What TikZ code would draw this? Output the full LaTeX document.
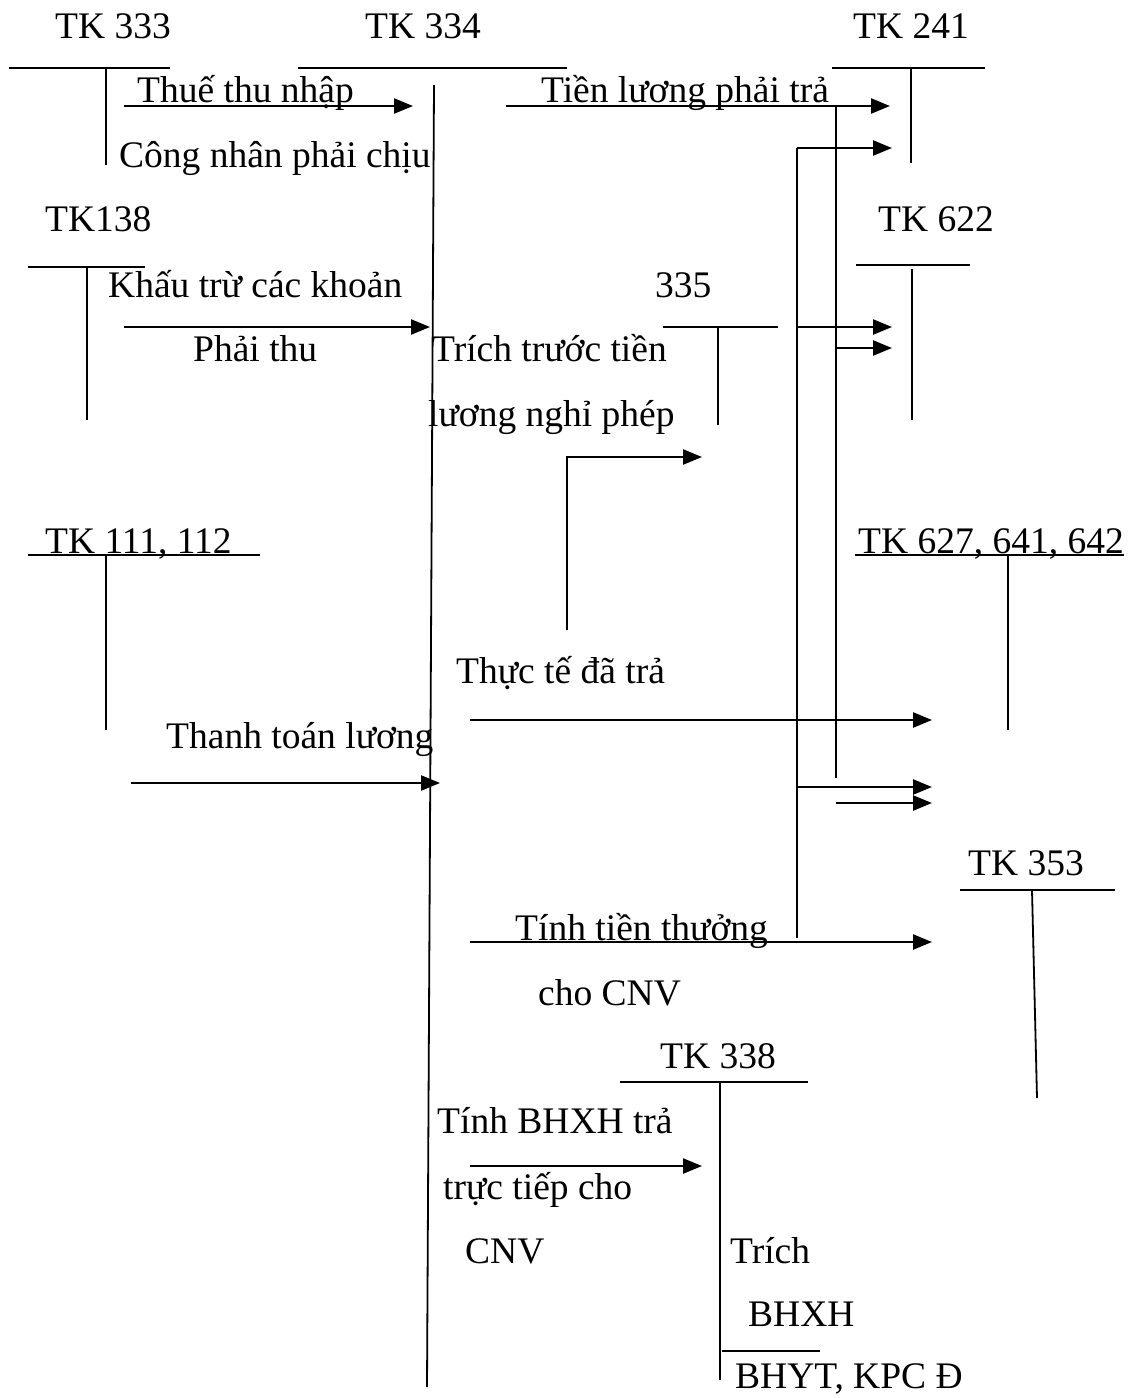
\documentclass[tikz,border=0pt]{standalone}
\usepackage{fontspec}
\setmainfont{Liberation Serif}
\usetikzlibrary{arrows.meta}
\tikzset{
  lbl/.style={font=\fontsize{37.5}{42}\selectfont, inner sep=0pt, anchor=base west},
  tline/.style={line width=1.8pt},
  arr/.style={line width=2.4pt, -{Triangle[length=19pt,width=15pt]}},
  seg/.style={line width=2.4pt}
}
\begin{document}
\begin{tikzpicture}[x=1pt,y=-1pt]
\useasboundingbox (0,0) rectangle (1132,1398);
% ---------- labels ----------
\node[lbl] (t333) at (55,38) {TK 333};
\node[lbl] (t334) at (365,38) {TK 334};
\node[lbl] (t241) at (853,38) {TK 241};
\node[lbl] (l1) at (137,102) {Thuế thu nhập};
\node[lbl] (l2) at (541,102) {Tiền lương phải trả};
\node[lbl] (l3) at (119,167) {Công nhân phải chịu};
\node[lbl] (t138) at (45,231) {TK138};
\node[lbl] (t622) at (878,231) {TK 622};
\node[lbl] (l4) at (108,297) {Khấu trừ các khoản};
\node[lbl] (t335) at (655,297) {335};
\node[lbl] (l5) at (193,361) {Phải thu};
\node[lbl] (l6) at (432,361) {Trích trước tiền};
\node[lbl] (l7) at (428,426) {lương nghỉ phép};
\node[lbl] (t111) at (45,553) {TK 111, 112};
\node[lbl] (t627) at (858,553) {TK 627, 641, 642};
\node[lbl] (l8) at (456,683) {Thực tế đã trả};
\node[lbl] (l9) at (166,748) {Thanh toán lương};
\node[lbl] (t353) at (968,875) {TK 353};
\node[lbl] (l10) at (515,940) {Tính tiền thưởng};
\node[lbl] (l11) at (538,1005) {cho CNV};
\node[lbl] (t338) at (660,1068) {TK 338};
\node[lbl] (l12) at (437,1133) {Tính BHXH trả};
\node[lbl] (l13) at (443,1199) {trực tiếp cho};
\node[lbl] (l14) at (465,1263) {CNV};
\node[lbl] (l15) at (730,1263) {Trích};
\node[lbl] (l16) at (748,1326) {BHXH};
\node[lbl] (l17) at (735,1388) {BHYT, KPC Đ};
% ---------- coordinates ----------
\coordinate (a333l) at (9,68);   \coordinate (a333r) at (170,68);
\coordinate (a333t) at (106,68); \coordinate (a333b) at (106,165);
\coordinate (a334l) at (298,68); \coordinate (a334r) at (567,68);
\coordinate (a334t) at (434,85); \coordinate (a334b) at (427,1387);
\coordinate (a241l) at (832,68); \coordinate (a241r) at (985,68);
\coordinate (a241t) at (911,68); \coordinate (a241b) at (911,163);
\coordinate (a138l) at (28,267); \coordinate (a138r) at (145,267);
\coordinate (a138t) at (87,267); \coordinate (a138b) at (87,420);
\coordinate (a622l) at (856,265); \coordinate (a622r) at (970,265);
\coordinate (a622t) at (912,269); \coordinate (a622b) at (912,420);
\coordinate (a335l) at (663,327); \coordinate (a335r) at (778,327);
\coordinate (a335t) at (718,327); \coordinate (a335b) at (718,425);
\coordinate (a111l) at (28,555); \coordinate (a111r) at (260,555);
\coordinate (a111t) at (106,555); \coordinate (a111b) at (106,730);
\coordinate (a627l) at (855,555); \coordinate (a627r) at (1124,555);
\coordinate (a627t) at (1008,555); \coordinate (a627b) at (1008,730);
\coordinate (a353l) at (960,890); \coordinate (a353r) at (1115,890);
\coordinate (a353t) at (1032,890); \coordinate (a353b) at (1037,1098);
\coordinate (a338l) at (620,1082); \coordinate (a338r) at (808,1082);
\coordinate (a338t) at (720,1082); \coordinate (a338b) at (720,1380);
\coordinate (s338l) at (722,1351); \coordinate (s338r) at (820,1351);
% flows
\coordinate (f1s) at (124,106); \coordinate (f1e) at (413,106);
\coordinate (f2s) at (506,106); \coordinate (f2e) at (890,106);
\coordinate (v797t) at (797,148); \coordinate (v797b) at (797,938);
\coordinate (f3e) at (892,148);
\coordinate (v836t) at (836,106); \coordinate (v836b) at (836,778);
\coordinate (f4s) at (124,327); \coordinate (f4e) at (430,327);
\coordinate (f5s) at (797,327); \coordinate (f5e) at (892,327);
\coordinate (f6s) at (836,348); \coordinate (f6e) at (892,348);
\coordinate (f7s) at (567,630); \coordinate (f7c) at (567,457); \coordinate (f7e) at (702,457);
\coordinate (f8s) at (470,720); \coordinate (f8e) at (932,720);
\coordinate (f9s) at (131,783); \coordinate (f9e) at (440,783);
\coordinate (f10s) at (797,787); \coordinate (f10e) at (932,787);
\coordinate (f11s) at (836,803); \coordinate (f11e) at (932,803);
\coordinate (f12s) at (470,942); \coordinate (f12e) at (932,942);
\coordinate (f13s) at (470,1166); \coordinate (f13e) at (702,1166);
% ---------- T-account lines ----------
\foreach \a in {333,334,241,138,622,335,111,627,353,338}{
  \draw[tline] (a\a l) -- (a\a r);
  \draw[tline] (a\a t) -- (a\a b);
}
\draw[tline] (s338l) -- (s338r);
% ---------- vertical connectors ----------
\draw[seg] (v797t) -- (v797b);
\draw[seg] (v836t) -- (v836b);
% ---------- arrows ----------
\draw[arr] (f1s) -- (f1e);
\draw[arr] (f2s) -- (f2e);
\draw[arr] (v797t) -- (f3e);
\draw[arr] (f4s) -- (f4e);
\draw[arr] (f5s) -- (f5e);
\draw[arr] (f6s) -- (f6e);
\draw[arr] (f7s) -- (f7c) -- (f7e);
\draw[arr] (f8s) -- (f8e);
\draw[arr] (f9s) -- (f9e);
\draw[arr] (f10s) -- (f10e);
\draw[arr] (f11s) -- (f11e);
\draw[arr] (f12s) -- (f12e);
\draw[arr] (f13s) -- (f13e);
\end{tikzpicture}
\end{document}
